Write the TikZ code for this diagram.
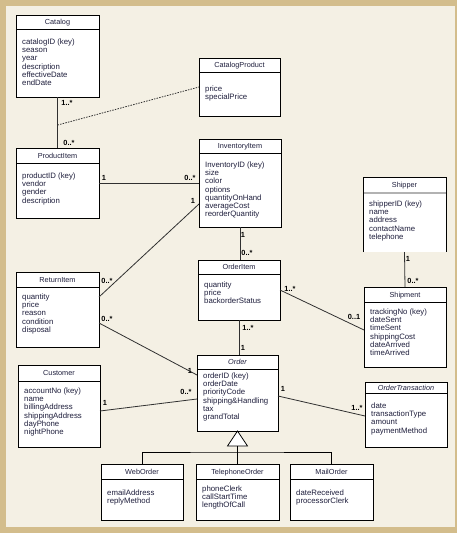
\documentclass[tikz,border=0pt]{standalone}
\usepackage{fontspec}
\setmainfont{Liberation Sans}
\usetikzlibrary{calc}
\definecolor{bordertan}{HTML}{D3BD8C}
\definecolor{cream}{HTML}{F4F0E4}
\definecolor{txt}{HTML}{1E1E3C}
\definecolor{linegray}{HTML}{303030}
\tikzset{
  cls/.style={draw=black, fill=white, line width=0.9pt, inner sep=0pt, outer sep=0pt},
  sepline/.style={line width=0.9pt},
  ttl/.style={font=\fontsize{7.3}{8}\selectfont, anchor=base, inner sep=0pt, text=txt},
  attr/.style={font=\fontsize{7.8}{8}\selectfont, anchor=base west, inner sep=0pt, text=txt},
  mult/.style={font=\fontsize{7.4}{8}\selectfont\bfseries, inner sep=0pt, text=black},
  assoc/.style={draw=linegray, line width=0.8pt},
  shipper extra/.style={draw=none},
  shipper sep/.style={line width=2pt, draw=black!30},
}
% name, x1, y1, x2, y2, separator y, title, first line y, attributes
\newcommand\umlclass[9]{%
  \pgfmathsetmacro\umlw{#4-#2}\pgfmathsetmacro\umlh{#5-#3}%
  \node[cls, #1 extra/.try, minimum width=\umlw pt, minimum height=\umlh pt] (#1) at ({(#2+#4)/2},{(#3+#5)/2}) {};
  \draw[sepline, #1 sep/.try] (#2,#6) -- (#4,#6);
  \node[ttl] (#1-t) at ({(#2+#4)/2},{(#3+#6)/2+2.5}) {#7};
  \foreach \a [count=\i] in {#9} \node[attr] (#1-\i) at ({#2+6},{#8+(\i-1)*8.2+2.5}) {\a};
}
\begin{document}
\begin{tikzpicture}[x=1pt,y=-1pt]
\useasboundingbox (0,0) rectangle (457,533);
\fill[bordertan] (0,0) rectangle (457,533);
\fill[cream] (6,6) rectangle (455,527);

\umlclass{catalog}{16}{15}{99}{97}{29}{Catalog}{42}{catalogID (key),season,year,description,effectiveDate,endDate}
\umlclass{catalogproduct}{199}{58}{280}{116}{72}{CatalogProduct}{89}{price,specialPrice}
\umlclass{productitem}{16}{148}{99}{218}{163}{ProductItem}{176}{productID (key),vendor,gender,description}
\umlclass{inventoryitem}{199}{139}{281}{227}{153}{InventoryItem}{165}{InventoryID (key),size,color,options,quantityOnHand,averageCost,reorderQuantity}
\umlclass{shipper}{363}{177}{446}{252}{193}{Shipper}{204}{shipperID (key),name,address,contactName,telephone}
\draw[sepline] (shipper.south west) -- (shipper.north west) -- (shipper.north east) -- (shipper.south east);
\umlclass{orderitem}{198}{260}{280}{320}{274}{OrderItem}{285}{quantity,price,backorderStatus}
\umlclass{shipment}{364}{287}{446}{367}{302}{Shipment}{312}{trackingNo (key),dateSent,timeSent,shippingCost,dateArrived,timeArrived}
\umlclass{returnitem}{16}{272}{99}{347}{287}{ReturnItem}{297}{quantity,price,reason,condition,disposal}
\umlclass{customer}{18}{365}{100}{447}{381}{Customer}{391}{accountNo (key),name,billingAddress,shippingAddress,dayPhone,nightPhone}
\umlclass{order}{197}{355}{278}{431}{369}{\itshape Order}{376}{orderID (key),orderDate,priorityCode,shipping\&Handling,tax,grandTotal}
\umlclass{ordertransaction}{365}{382}{447}{447}{393}{\itshape OrderTransaction}{406}{date,transactionType,amount,paymentMethod}
\umlclass{weborder}{101}{464}{183}{520}{479}{WebOrder}{493}{emailAddress,replyMethod}
\umlclass{telephoneorder}{196}{464}{279}{520}{479}{TelephoneOrder}{489}{phoneClerk,callStartTime,lengthOfCall}
\umlclass{mailorder}{290}{464}{373}{520}{479}{MailOrder}{493}{dateReceived,processorClerk}

% associations
\draw[assoc] (catalog.south) -- (productitem.north) coordinate[pos=0.55] (cpj);
\draw[assoc, dash pattern=on 1.5pt off 1.2pt] (cpj) -- (catalogproduct.west);
\draw[assoc] (productitem.east) -- (inventoryitem.west);
\draw[assoc] (inventoryitem.south) -- (inventoryitem.south |- orderitem.north);
\draw[assoc] (shipper.south) -- (shipment.north);
\draw[assoc] (orderitem.east) -- ($(shipment.west)+(0,3)$);
\draw[assoc] (orderitem.south) -- (orderitem.south |- order.north);
\draw[assoc] ($(returnitem.north east)+(0,25)$) -- ($(inventoryitem.north west)+(0,65)$);
\draw[assoc] ($(returnitem.north east)+(0,51)$) -- ($(order.north west)+(0,20)$);
\draw[assoc] ($(customer.north east)+(0,46)$) -- ($(order.north west)+(0,44)$);
\draw[assoc] ($(order.north east)+(0,41)$) -- ($(ordertransaction.north west)+(0,34)$);

% generalization
\draw[line width=0.8pt, fill=white] (order.south) -- ++(-10,15) -- ++(20,0) -- cycle;
\coordinate (genbase) at ($(order.south)+(0,15)$);
\coordinate (genbus) at ($(genbase)+(0,6)$);
\draw[line width=0.8pt] (genbase) -- (genbus);
\draw[line width=0.8pt] (weborder.north) |- (genbus) -| (mailorder.north);
\draw[line width=0.8pt] (genbus) -- (telephoneorder.north);

% multiplicities
\node[mult] (m1) at (67,103) {1..*};
\node[mult] (m2) at (69,143) {0..*};
\node[mult] (m3) at (104,178) {1};
\node[mult] (m4) at (190,178) {0..*};
\node[mult] (m5) at (193,201) {1};
\node[mult] (m6) at (243,235) {1};
\node[mult] (m7) at (247,253) {0..*};
\node[mult] (m8) at (408,259) {1};
\node[mult] (m9) at (413,281) {0..*};
\node[mult] (m10) at (290,289) {1..*};
\node[mult] (m11) at (354,317) {0..1};
\node[mult] (m12) at (248,328) {1..*};
\node[mult] (m13) at (243,348) {1};
\node[mult] (m14) at (107,281) {0..*};
\node[mult] (m15) at (107,319) {0..*};
\node[mult] (m16) at (190,371) {1};
\node[mult] (m17) at (105,403) {1};
\node[mult] (m18) at (186,392) {0..*};
\node[mult] (m19) at (283,389) {1};
\node[mult] (m20) at (357,408) {1..*};
\end{tikzpicture}
\end{document}
